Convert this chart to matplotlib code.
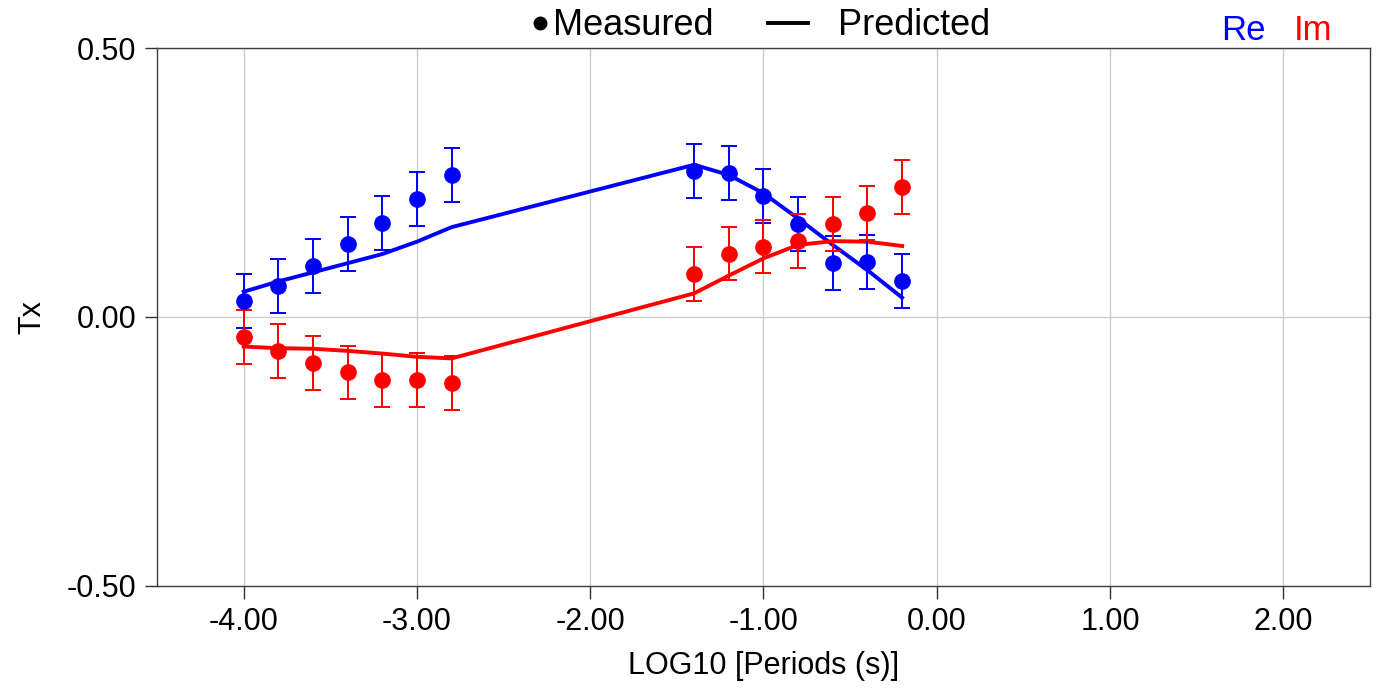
import numpy as np
import matplotlib.pyplot as plt
from matplotlib.lines import Line2D

plt.rcParams['font.family'] = ['Liberation Sans', 'DejaVu Sans']

# periods (log10 s)
logT = [-4.0, -3.8, -3.6, -3.4, -3.2, -3.0, -2.8, -1.4, -1.2, -1.0, -0.8, -0.6, -0.4, -0.2]

# measured tipper Tx
re_meas = [0.030, 0.058, 0.095, 0.135, 0.175, 0.220, 0.264, 0.271, 0.267, 0.225, 0.173, 0.100, 0.102, 0.067]
im_meas = [-0.037, -0.063, -0.086, -0.103, -0.118, -0.117, -0.122, 0.080, 0.118, 0.131, 0.141, 0.173, 0.193, 0.241]
re_err = [0.05] * 14
im_err = [0.05] * 14

# predicted
re_pred = [0.047, 0.066, 0.083, 0.100, 0.117, 0.140, 0.167, 0.283, 0.264, 0.230, 0.183, 0.134, 0.087, 0.036]
im_pred = [-0.055, -0.058, -0.059, -0.063, -0.068, -0.074, -0.077, 0.044, 0.077, 0.109, 0.134, 0.141, 0.140, 0.132]

xticks = [-4, -3, -2, -1, 0, 1, 2]
yticks = [-0.5, 0.0, 0.5]

fig = plt.figure(figsize=(13.82, 6.88), dpi=100)
ax = fig.add_axes([0.1136, 0.1483, 0.8777, 0.7819])

ax.plot(logT, re_pred, color='#0000ff', lw=2.8, zorder=3)
ax.plot(logT, im_pred, color='#ff0000', lw=2.8, zorder=3)
ax.errorbar(logT, re_meas, yerr=re_err, fmt='o', color='#0000ff', ms=11,
            elinewidth=1.4, capsize=6, capthick=1.4, zorder=4)
ax.errorbar(logT, im_meas, yerr=im_err, fmt='o', color='#ff0000', ms=11,
            elinewidth=1.4, capsize=6, capthick=1.4, zorder=4)

ax.set_xlim(-4.5, 2.5)
ax.set_ylim(-0.5, 0.5)
ax.set_xticks(xticks)
ax.set_xticklabels(['%.2f' % v for v in xticks])
ax.set_yticks(yticks)
ax.set_yticklabels(['%.2f' % v for v in yticks])
ax.tick_params(labelsize=22, length=9, width=1, color='#333333', direction='out', pad=6)
ax.grid(True, color='#cccccc', lw=1)
ax.set_axisbelow(True)
for s in ax.spines.values():
    s.set_color('#404040')
    s.set_linewidth(1)

ax.set_xlabel('LOG10 [Periods (s)]', fontsize=22, labelpad=10)
ax.set_ylabel('Tx', fontsize=22, labelpad=14)

# legend drawn by hand above the axes
fig.add_artist(Line2D([0.3907], [0.9666], marker='o', ms=9, color='black', transform=fig.transFigure))
fig.text(0.4001, 0.9625, 'Measured', fontsize=26, ha='left', va='center')
fig.add_artist(Line2D([0.5557, 0.5847], [0.9666, 0.9666], lw=2.8, color='black', transform=fig.transFigure))
fig.text(0.6064, 0.9625, 'Predicted', fontsize=26, ha='left', va='center')

fig.text(0.8994, 0.956, 'Re', color='#0000ff', fontsize=25, ha='center', va='center')
fig.text(0.950, 0.956, 'Im', color='#ff0000', fontsize=25, ha='center', va='center')

fig.savefig('out.png', dpi=100)
